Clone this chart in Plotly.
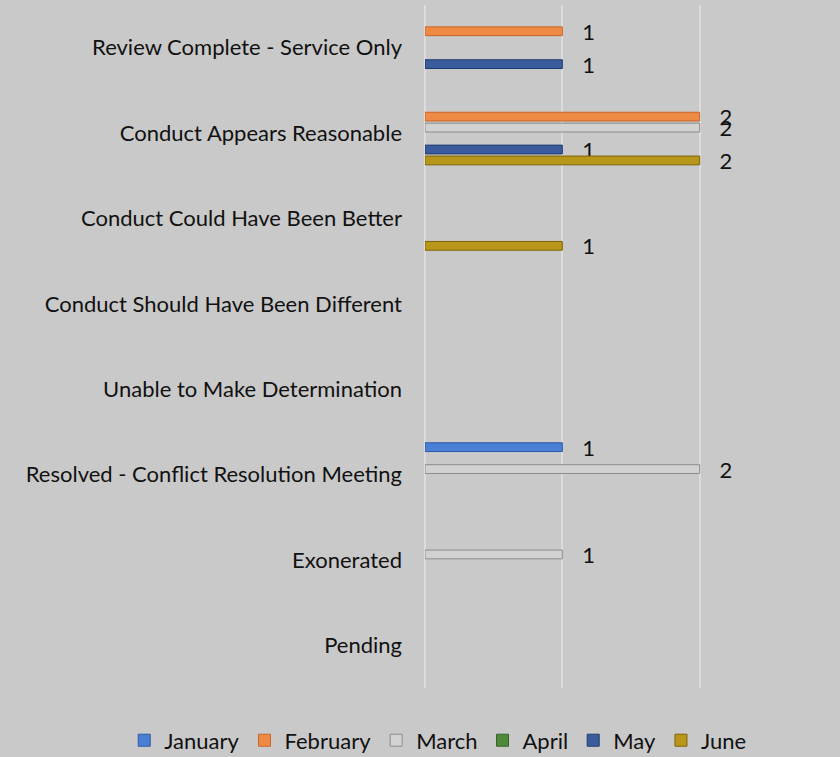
import plotly.graph_objects as go

categories = [
    "Review Complete - Service Only",
    "Conduct Appears Reasonable",
    "Conduct Could Have Been Better",
    "Conduct Should Have Been Different",
    "Unable to Make Determination",
    "Resolved - Conflict Resolution Meeting",
    "Exonerated",
    "Pending",
]
months = ["January", "February", "March", "April", "May", "June"]
january = [None, None, None, None, None, 1, None, None]
february = [1, 2, None, None, None, None, None, None]
march = [None, 2, None, None, None, 2, 1, None]
april = [None, None, None, None, None, None, None, None]
may = [1, 1, None, None, None, None, None, None]
june = [None, 2, 1, None, None, None, None, None]
series = [january, february, march, april, may, june]
colors = ["#4a7fd6", "#ef8a45", "#d2d2d2", "#4f8a3a", "#3a5c9c", "#b8961a"]
edge = ["#2d5aa8", "#c8662a", "#8c8c8c", "#336626", "#1f3b70", "#806400"]

FONT = "Lato, Calibri, Carlito, sans-serif"
fig = go.Figure()
for name, vals, c, e in zip(months, series, colors, edge):
    fig.add_trace(go.Bar(
        y=categories, x=vals, name=name, orientation="h",
        marker=dict(color=c, line=dict(color=e, width=1)),
        text=[("" if v is None else f"   {v}") for v in vals],
        textposition="outside", cliponaxis=False,
        textfont=dict(family=FONT, size=22, color="#111"),
        constraintext="none",
    ))

fig.update_layout(
    width=840, height=757,
    barmode="group", bargap=0.23, bargroupgap=0.2,
    paper_bgcolor="#c9c9c9", plot_bgcolor="#c9c9c9",
    margin=dict(l=425, r=3, t=5, b=69, autoexpand=False),
    font=dict(family=FONT, size=22, color="#111"),
    showlegend=True,
    legend=dict(orientation="h", x=-0.73, xanchor="left",
                y=-0.046, yanchor="top", font=dict(size=22),
                itemwidth=30, tracegroupgap=0),
    xaxis=dict(range=[0, 3], showticklabels=False, showgrid=True,
               gridcolor="#dcdcdc", gridwidth=2, zeroline=True,
               zerolinecolor="#dcdcdc", zerolinewidth=2, dtick=1,
               showline=False, fixedrange=True, automargin=False),
    yaxis=dict(autorange="reversed", showgrid=False, ticks="", automargin=False,
               ticklabelstandoff=22, tickfont=dict(size=22)),
)
fig.write_html("out.html", config={"displayModeBar": False},
               post_script="document.body.style.margin='0';")
